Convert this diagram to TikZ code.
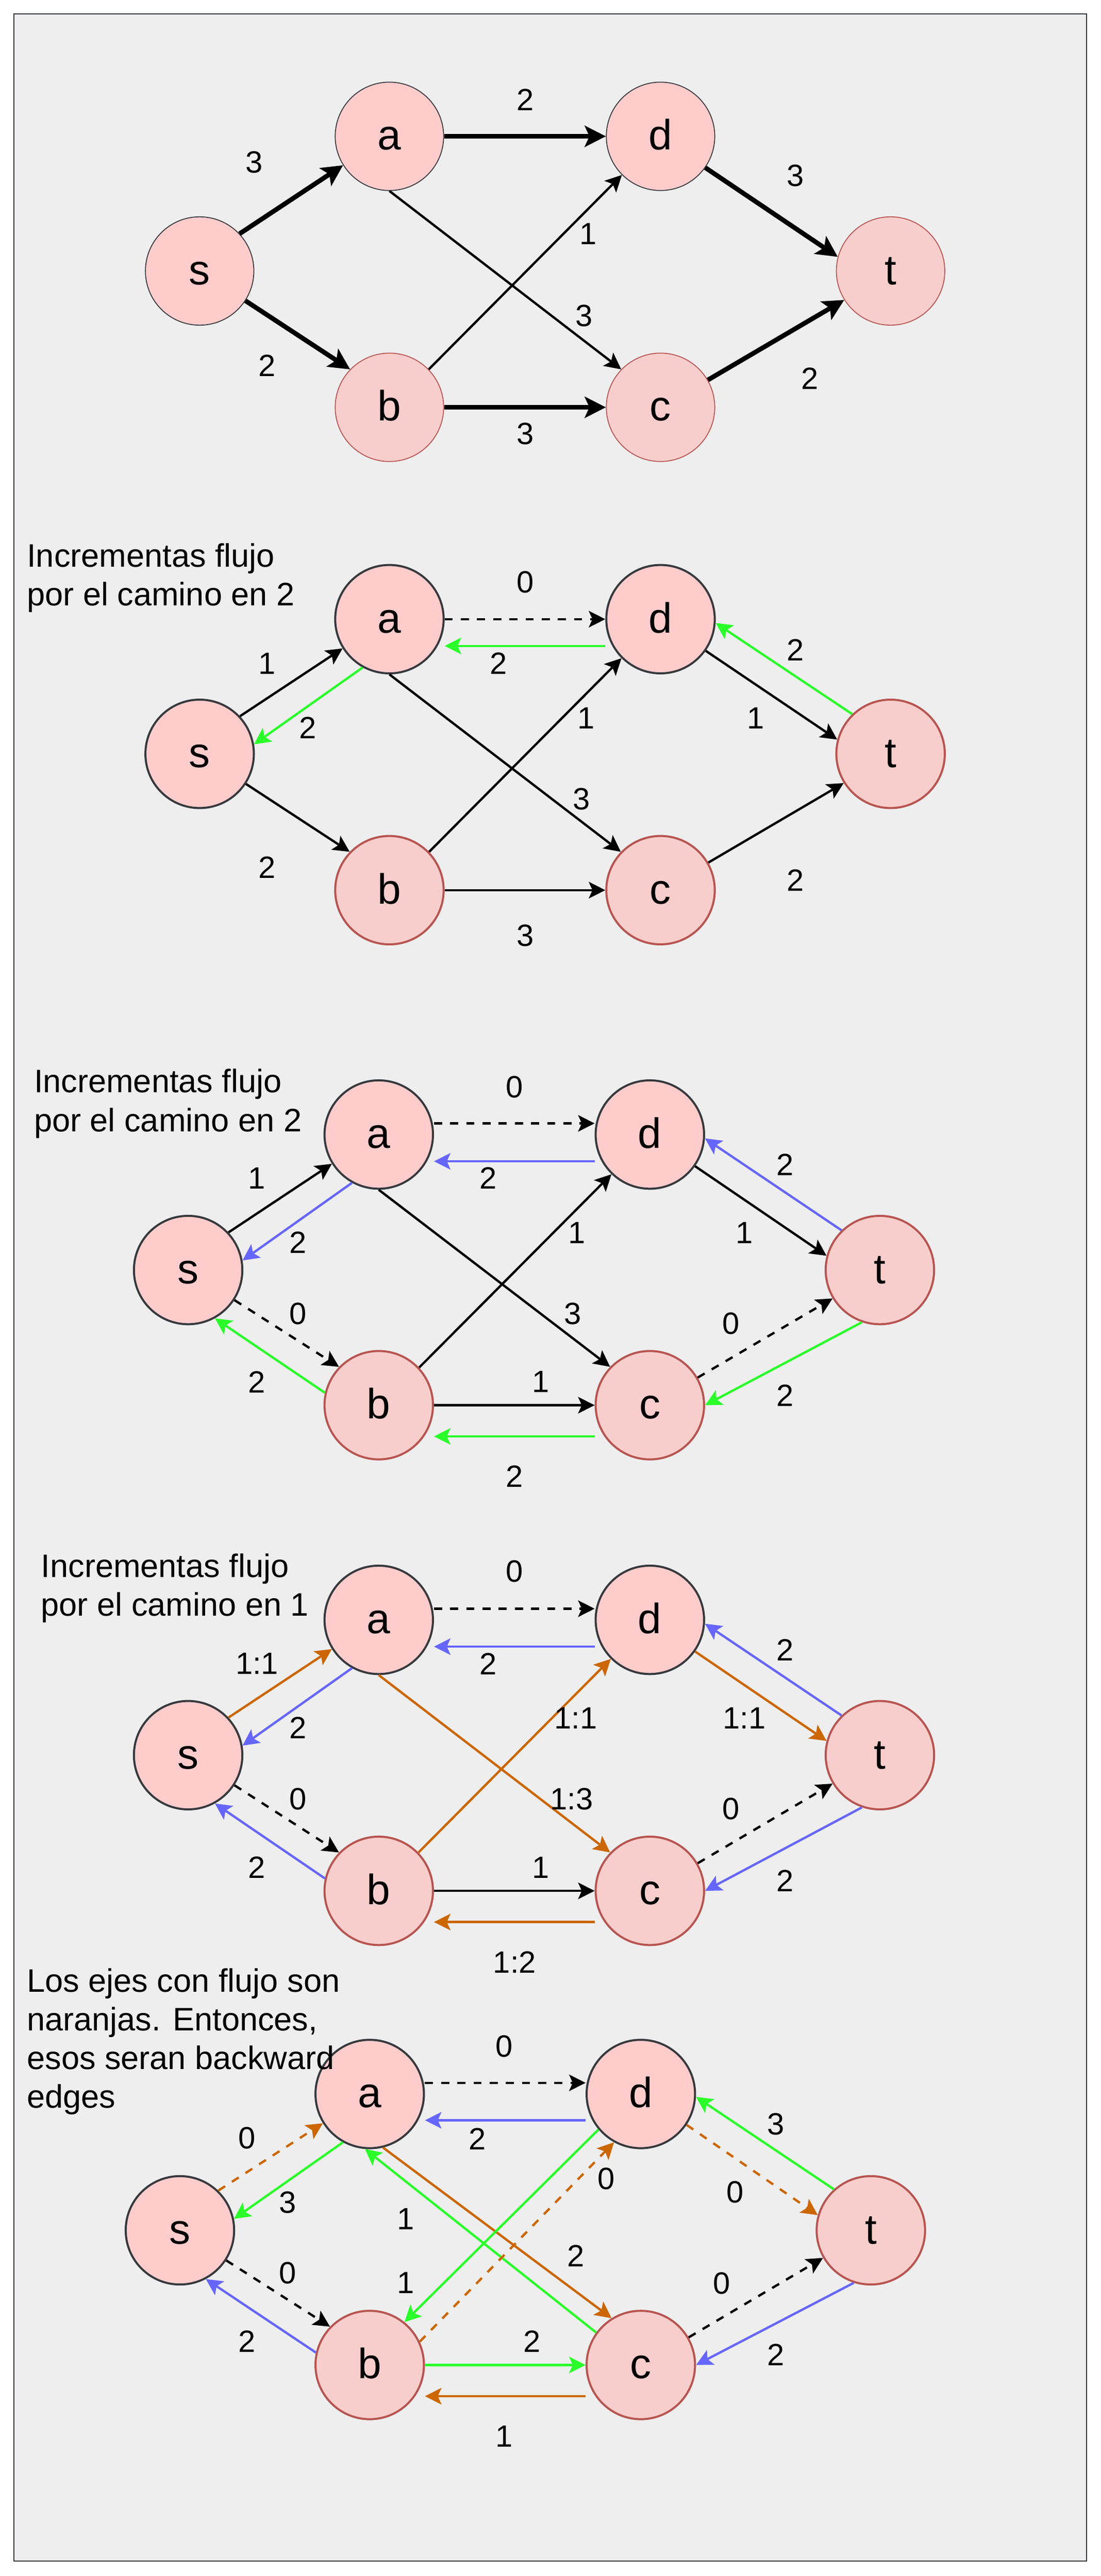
\documentclass[tikz,border=0pt]{standalone}
\usepackage{fontspec}
\setmainfont{Liberation Sans}
\usetikzlibrary{arrows.meta,calc}

\definecolor{paper}{HTML}{EEEEEE}
\definecolor{frame}{HTML}{36393D}
\definecolor{pinkfill}{HTML}{FFCCCC}
\definecolor{redfill}{HTML}{F8CECC}
\definecolor{redline}{HTML}{B85450}
\definecolor{grn}{HTML}{2AFF2A}
\definecolor{blu}{HTML}{6666FF}
\definecolor{org}{HTML}{CC6600}

\tikzset{
  vtx/.style={circle, minimum size=1.98cm, inner sep=0pt, line width=1.07pt,
    text height=14.1pt, text depth=0pt, font=\fontsize{22}{26}\selectfont},
  up/.style={vtx, fill=pinkfill, draw=frame},
  dn/.style={vtx, fill=redfill, draw=redline},
  p1/.style={line width=0.47pt},
  lbl/.style={inner sep=0pt, font=\fontsize{16}{20.1}\selectfont},
  txt/.style={inner sep=0pt, align=left, anchor=west, font=\fontsize{16.9}{20.1}\selectfont},
  fl/.style={line width=1.21pt, -{Stealth[length=0.3cm, width=0.3cm, inset=0.066cm]}},
  hv/.style={line width=2.43pt, -{Stealth[length=0.385cm, width=0.385cm, inset=0.085cm]}},
  dsh/.style={fl, dash pattern=on 4.2pt off 4.2pt},
}

\begin{document}
\begin{tikzpicture}[x=0.03cm, y=0.03cm]
        \useasboundingbox (0,0) rectangle (670,-1568.5);
        \fill[white] (0,0) rectangle (670,-1568.5);
        \path[fill=paper, draw=frame, line width=0.55pt] (8.5,-8.5) rectangle (661.4,-1559.4);

        % grafo original
        \node[up,p1] (s1) at (121.5,-165) {s};
        \node[up,p1] (a1) at (237,-83) {a};
        \node[up,p1] (d1) at (402,-83) {d};
        \node[dn,p1] (t1) at (542,-165) {t};
        \node[dn,p1] (b1) at (237,-248) {b};
        \node[dn,p1] (c1) at (402,-248) {c};

        \path[hv]
        (s1.43) edge (a1.212)
        (s1.327) edge (b1.136)
        (a1) edge (d1)
        (b1) edge (c1)
        (d1.325) edge (t1.165)
        (c1.30) edge (t1.212);
        \path[fl]
        (a1.south) edge (c1.136)
        (b1.44) edge (d1.225);

        \node[lbl] (w1sa) at (154.7,-98.7) {3};
        \node[lbl] (w1ad) at (319.6,-60.8) {2};
        \node[lbl] (w1dt) at (484,-107) {3};
        \node[lbl] (w1bd) at (358,-142.5) {1};
        \node[lbl] (w1ac) at (355.5,-192.4) {3};
        \node[lbl] (w1sb) at (162.4,-222.6) {2};
        \node[lbl] (w1bc) at (319.6,-264) {3};
        \node[lbl] (w1ct) at (492.7,-230.5) {2};

        % primer camino
        \node[up] (s2) at (121.5,-459) {s};
        \node[up] (a2) at (237,-377) {a};
        \node[up] (d2) at (402,-377) {d};
        \node[dn] (t2) at (542,-459) {t};
        \node[dn] (b2) at (237,-542) {b};
        \node[dn] (c2) at (402,-542) {c};

        \path[fl]
        (s2.43) edge (a2.212)
        (a2.241) edge[grn] (s2.10)
        (a2) edge[dsh] (d2)
        ($(d2.west)+(0,-16.3)$) edge[grn] ($(a2.east)+(0,-16.3)$)
        (d2.325) edge (t2.165)
        (t2.134) edge[grn] (d2.356)
        (s2.327) edge (b2.136)
        (a2.south) edge (c2.136)
        (b2.44) edge (d2.225)
        (b2) edge (c2)
        (c2.30) edge (t2.212);

        \node[txt] (txt2) at (16.2,-352) {Incrementas flujo\\por el camino en 2};
        \node[lbl] (w2ad) at (319.6,-354.4) {0};
        \node[lbl] (w2da) at (303.4,-404) {2};
        \node[lbl] (w2sa) at (162.4,-404) {1};
        \node[lbl] (w2as) at (187.2,-443.2) {2};
        \node[lbl] (w2td) at (484,-395.8) {2};
        \node[lbl] (w2dt) at (459.8,-437.3) {1};
        \node[lbl] (w2bd) at (356.8,-437.3) {1};
        \node[lbl] (w2ac) at (353.8,-486.4) {3};
        \node[lbl] (w2sb) at (162.4,-528) {2};
        \node[lbl] (w2bc) at (319.6,-569.5) {3};
        \node[lbl] (w2ct) at (484,-536) {2};

        % segundo camino
        \node[up] (s3) at (114.5,-773.3) {s};
        \node[up] (a3) at (230.5,-690.8) {a};
        \node[up] (d3) at (395.5,-690.8) {d};
        \node[dn] (t3) at (535.5,-773.3) {t};
        \node[dn] (b3) at (230.5,-855.6) {b};
        \node[dn] (c3) at (395.5,-855.6) {c};

        \path[fl]
        (s3.43) edge (a3.212)
        (a3.241) edge[blu] (s3.10)
        ($(a3.east)+(0,6.8)$) edge[dsh] ($(d3.west)+(0,6.8)$)
        ($(d3.west)+(0,-16.3)$) edge[blu] ($(a3.east)+(0,-16.3)$)
        (d3.325) edge (t3.165)
        (t3.134) edge[blu] (d3.356)
        (s3.327) edge[dsh] (b3.136)
        (b3.167) edge[grn] (s3.299)
        (a3.south) edge (c3.136)
        (b3.43) edge (d3.226)
        (b3) edge (c3)
        ($(c3.west)+(0,-19)$) edge[grn] ($(b3.east)+(0,-19)$)
        (c3.30) edge[dsh] (t3.211)
        (t3.251) edge[grn] (c3.east);

        \node[txt] (txt3) at (20.5,-672) {Incrementas flujo\\por el camino en 2};
        \node[lbl] (w3ad) at (313.2,-661.8) {0};
        \node[lbl] (w3da) at (297,-717.4) {2};
        \node[lbl] (w3sa) at (156.4,-717.4) {1};
        \node[lbl] (w3as) at (181.2,-756.5) {2};
        \node[lbl] (w3td) at (477.7,-709.2) {2};
        \node[lbl] (w3dt) at (453,-750.6) {1};
        \node[lbl] (w3bd) at (351.2,-750.6) {1};
        \node[lbl] (w3ac) at (348.7,-800) {3};
        \node[lbl] (w3sb) at (181.2,-800) {0};
        \node[lbl] (w3bs) at (156.4,-841.4) {2};
        \node[lbl] (w3bc) at (329,-841.4) {1};
        \node[lbl] (w3cb) at (313.2,-899) {2};
        \node[lbl] (w3ct) at (444.8,-805.9) {0};
        \node[lbl] (w3tc) at (477.7,-849.6) {2};

        % tercer camino
        \node[up] (s4) at (114.5,-1068.7) {s};
        \node[up] (a4) at (230.5,-986.3) {a};
        \node[up] (d4) at (395.5,-986.3) {d};
        \node[dn] (t4) at (535.5,-1068.7) {t};
        \node[dn] (b4) at (230.5,-1151.3) {b};
        \node[dn] (c4) at (395.5,-1151.3) {c};

        \path[fl]
        (s4.43) edge[org] (a4.212)
        (a4.241) edge[blu] (s4.10)
        ($(a4.east)+(0,6.8)$) edge[dsh] ($(d4.west)+(0,6.8)$)
        ($(d4.west)+(0,-16.3)$) edge[blu] ($(a4.east)+(0,-16.3)$)
        (d4.325) edge[org] (t4.165)
        (t4.134) edge[blu] (d4.356)
        (s4.327) edge[dsh] (b4.136)
        (b4.167) edge[blu] (s4.299)
        (a4.south) edge[org] (c4.136)
        (b4.44) edge[org] (d4.225)
        (b4) edge (c4)
        ($(c4.west)+(0,-19)$) edge[org] ($(b4.east)+(0,-19)$)
        (c4.30) edge[dsh] (t4.211)
        (t4.251) edge[blu] (c4.east);

        \node[txt] (txt4) at (24.8,-967.1) {Incrementas flujo\\por el camino en 1};
        \node[lbl] (w4ad) at (313.2,-956.8) {0};
        \node[lbl] (w4da) at (297,-1013) {2};
        \node[lbl] (w4sa) at (156.4,-1013) {1:1};
        \node[lbl] (w4as) at (181.2,-1052) {2};
        \node[lbl] (w4td) at (477.7,-1004.8) {2};
        \node[lbl] (w4dt) at (453,-1046.2) {1:1};
        \node[lbl] (w4bd) at (350.4,-1046.2) {1:1};
        \node[lbl] (w4ac) at (347.8,-1095.5) {1:3};
        \node[lbl] (w4sb) at (181.2,-1095.5) {0};
        \node[lbl] (w4bs) at (156.4,-1137) {2};
        \node[lbl] (w4bc) at (329,-1137) {1};
        \node[lbl] (w4cb) at (313.2,-1194.6) {1:2};
        \node[lbl] (w4ct) at (444.8,-1101.5) {0};
        \node[lbl] (w4tc) at (477.7,-1145.2) {2};

        % grafo residual
        \node[up] (s5) at (109.5,-1358) {s};
        \node[up] (a5) at (225,-1275) {a};
        \node[up] (d5) at (390,-1275) {d};
        \node[dn] (t5) at (530,-1358) {t};
        \node[dn] (b5) at (225,-1440) {b};
        \node[dn] (c5) at (390,-1440) {c};

        \path[fl]
        (s5.46) edge[dsh,org] (a5.212)
        (a5.241) edge[grn] (s5.12)
        ($(a5.east)+(0,6.8)$) edge[dsh] ($(d5.west)+(0,6.8)$)
        ($(d5.west)+(0,-16)$) edge[blu] ($(a5.east)+(0,-16)$)
        (d5.326) edge[dsh,org] (t5.164)
        (t5.132) edge[grn] (d5.357)
        (s5.327) edge[dsh] (b5.136)
        (b5.167) edge[blu] (s5.298)
        (a5.284) edge[org] (c5.122)
        (c5.144) edge[grn] (a5.265)
        (d5.220) edge[grn] (b5.51)
        (b5.25) edge[dsh,org] (d5.241)
        (b5) edge[grn] (c5)
        ($(c5.west)+(0,-19)$) edge[org] ($(b5.east)+(0,-19)$)
        (c5.30) edge[dsh] (t5.210)
        (t5.252) edge[blu] (c5.east);

        \node[lbl] (w5sa) at (150.4,-1301.7) {0};
        \node[lbl] (w5as) at (175.2,-1341) {3};
        \node[lbl] (w5ad) at (306.8,-1245.9) {0};
        \node[lbl] (w5da) at (290.6,-1302.2) {2};
        \node[lbl] (w5td) at (472.2,-1293.5) {3};
        \node[lbl] (w5dt) at (447.4,-1334.8) {0};
        \node[lbl] (w5bd) at (368.8,-1326.7) {0};
        \node[lbl] (w5ca) at (247,-1351) {1};
        \node[lbl] (w5ac) at (350.4,-1373.6) {2};
        \node[lbl] (w5db) at (247,-1389.9) {1};
        \node[lbl] (w5sb) at (175.2,-1384) {0};
        \node[lbl] (w5bs) at (150.4,-1425.7) {2};
        \node[lbl] (w5bc) at (323.9,-1425.7) {2};
        \node[lbl] (w5cb) at (306.8,-1483.3) {1};
        \node[lbl] (w5ct) at (439.3,-1390.4) {0};
        \node[lbl] (w5tc) at (472.2,-1433.7) {2};
        \node[txt] (txt5) at (16.2,-1243.1) {Los ejes con flujo son\\naranjas. Entonces,\\esos seran backward\\edges};
\end{tikzpicture}
\end{document}
